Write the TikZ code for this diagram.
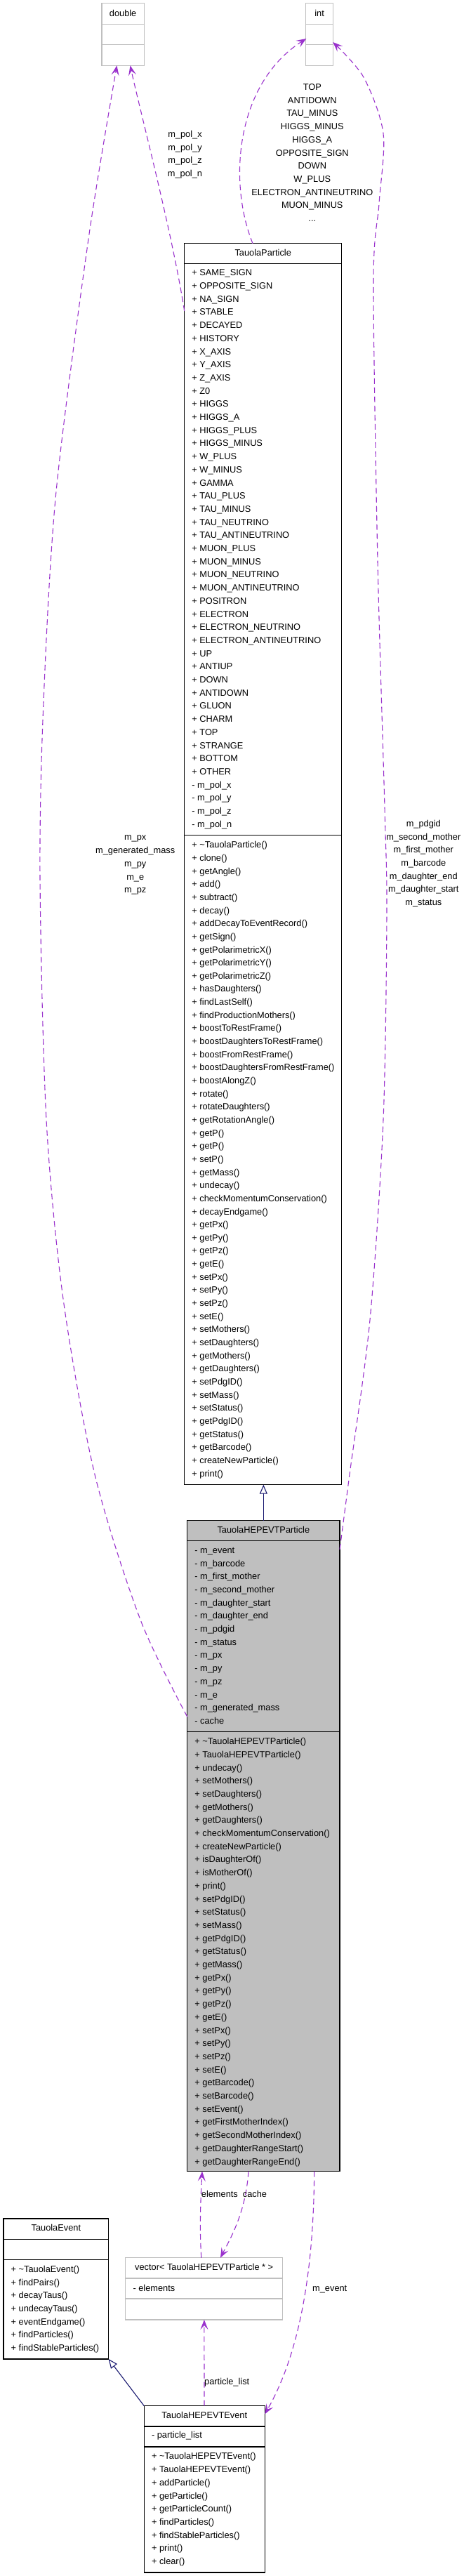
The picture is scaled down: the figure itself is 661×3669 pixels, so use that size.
\documentclass[tikz,border=0pt]{standalone}
\usepackage{fontspec}
\setmainfont{Liberation Sans}
\usetikzlibrary{calc,arrows.meta}
\definecolor{edgepurple}{HTML}{9A32CD}
\definecolor{inhblue}{HTML}{191970}
\definecolor{boxgray}{HTML}{BFBFBF}
\begin{document}
\begin{tikzpicture}[x=1pt,y=-1pt,
  every node/.style={font=\fontsize{12.8pt}{15pt}\selectfont},
  box/.style={draw=black, line width=1.2pt, fill=white, inner sep=0pt, outer sep=0pt, anchor=north west, rectangle},
  lbox/.style={box, draw=boxgray},
  gbox/.style={box, fill=boxgray},
  sepline/.style={draw=black, line width=1.2pt},
  lsepline/.style={draw=boxgray, line width=1.2pt},
  row/.style={anchor=west, inner sep=0pt, text height=9.2pt, text depth=0pt},
  ttl/.style={anchor=center, inner sep=0pt, text height=9.2pt, text depth=0pt},
  elbl/.style={anchor=center, inner sep=0pt, text height=9.2pt, text depth=0pt},
  elbll/.style={anchor=west, inner sep=0pt, text height=9.2pt, text depth=0pt},
  dep/.style={draw=edgepurple, line width=1.1pt, dash pattern=on 8pt off 5pt,
     -{Stealth[length=14pt,width=11pt,inset=6pt]}},
  inh/.style={draw=inhblue, line width=1.1pt, -{Triangle[open,length=13pt,width=11pt]}}
]
\fill[white] (0,0) rectangle (661,3669);
\useasboundingbox (0,0) rectangle (661,3669);

% ---------- double ----------
\node[lbox, minimum width=60.3pt, minimum height=88.6pt] (dbl) at (145,4.7) {};
\draw[lsepline] ($(dbl.north west)+(0,29.6)$) -- ($(dbl.north east)+(0,29.6)$);
\draw[lsepline] ($(dbl.north west)+(0,58.6)$) -- ($(dbl.north east)+(0,58.6)$);
\node[ttl] (dbl-t) at ($(dbl.north)+(0,14)$) {double};

% ---------- int ----------
\node[lbox, minimum width=39.2pt, minimum height=88.6pt] (int) at (435.5,4.7) {};
\draw[lsepline] ($(int.north west)+(0,29.6)$) -- ($(int.north east)+(0,29.6)$);
\draw[lsepline] ($(int.north west)+(0,58.6)$) -- ($(int.north east)+(0,58.6)$);
\node[ttl] (int-t) at ($(int.north)+(0,14)$) {int};

% ---------- TauolaParticle ----------
\node[box, minimum width=224pt, minimum height=1768pt] (tp) at (262.7,346.7) {};
\draw[sepline] ($(tp.north west)+(0,29)$) -- ($(tp.north east)+(0,29)$);
\draw[sepline] ($(tp.north west)+(0,843.1)$) -- ($(tp.north east)+(0,843.1)$);
\node[ttl] (tp-t) at ($(tp.north)+(0,13.5)$) {TauolaParticle};
\foreach \txt [count=\i from 0] in {+ SAME\_SIGN, + OPPOSITE\_SIGN, + NA\_SIGN, + STABLE, + DECAYED, + HISTORY, + X\_AXIS, + Y\_AXIS, + Z\_AXIS, + Z0, + HIGGS, + HIGGS\_A, + HIGGS\_PLUS, + HIGGS\_MINUS, + W\_PLUS, + W\_MINUS, + GAMMA, + TAU\_PLUS, + TAU\_MINUS, + TAU\_NEUTRINO, + TAU\_ANTINEUTRINO, + MUON\_PLUS, + MUON\_MINUS, + MUON\_NEUTRINO, + MUON\_ANTINEUTRINO, + POSITRON, + ELECTRON, + ELECTRON\_NEUTRINO, + ELECTRON\_ANTINEUTRINO, + UP, + ANTIUP, + DOWN, + ANTIDOWN, + GLUON, + CHARM, + TOP, + STRANGE, + BOTTOM, + OTHER, - m\_pol\_x, - m\_pol\_y, - m\_pol\_z, - m\_pol\_n}
  \node[row] (tpa\i) at ($(tp.north west)+(10.5,{41.5+18.7*\i})$) {\txt};
\foreach \txt [count=\i from 0] in {+ \textasciitilde TauolaParticle(), + clone(), + getAngle(), + add(), + subtract(), + decay(), + addDecayToEventRecord(), + getSign(), + getPolarimetricX(), + getPolarimetricY(), + getPolarimetricZ(), + hasDaughters(), + findLastSelf(), + findProductionMothers(), + boostToRestFrame(), + boostDaughtersToRestFrame(), + boostFromRestFrame(), + boostDaughtersFromRestFrame(), + boostAlongZ(), + rotate(), + rotateDaughters(), + getRotationAngle(), + getP(), + getP(), + setP(), + getMass(), + undecay(), + checkMomentumConservation(), + decayEndgame(), + getPx(), + getPy(), + getPz(), + getE(), + setPx(), + setPy(), + setPz(), + setE(), + setMothers(), + setDaughters(), + getMothers(), + getDaughters(), + setPdgID(), + setMass(), + setStatus(), + getPdgID(), + getStatus(), + getBarcode(), + createNewParticle(), + print()}
  \node[row] (tpm\i) at ($(tp.north west)+(10.5,{856.5+18.65*\i})$) {\txt};

% ---------- TauolaHEPEVTParticle ----------
\node[gbox, minimum width=217.3pt, minimum height=927pt] (thp) at (266.7,2165.7) {};
\draw[sepline] ($(thp.north west)+(0,29)$) -- ($(thp.north east)+(0,29)$);
\draw[sepline] ($(thp.north west)+(0,301)$) -- ($(thp.north east)+(0,301)$);
\node[ttl] (thp-t) at ($(thp.north)+(0,13)$) {TauolaHEPEVTParticle};
\foreach \txt [count=\i from 0] in {- m\_event, - m\_barcode, - m\_first\_mother, - m\_second\_mother, - m\_daughter\_start, - m\_daughter\_end, - m\_pdgid, - m\_status, - m\_px, - m\_py, - m\_pz, - m\_e, - m\_generated\_mass, - cache}
  \node[row] (thpa\i) at ($(thp.north west)+(10.5,{42+18.7*\i})$) {\txt};
\foreach \txt [count=\i from 0] in {+ \textasciitilde TauolaHEPEVTParticle(), + TauolaHEPEVTParticle(), + undecay(), + setMothers(), + setDaughters(), + getMothers(), + getDaughters(), + checkMomentumConservation(), + createNewParticle(), + isDaughterOf(), + isMotherOf(), + print(), + setPdgID(), + setStatus(), + setMass(), + getPdgID(), + getStatus(), + getMass(), + getPx(), + getPy(), + getPz(), + getE(), + setPx(), + setPy(), + setPz(), + setE(), + getBarcode(), + setBarcode(), + setEvent(), + getFirstMotherIndex(), + getSecondMotherIndex(), + getDaughterRangeStart(), + getDaughterRangeEnd()}
  \node[row] (thpm\i) at ($(thp.north west)+(10.5,{314.3+18.7*\i})$) {\txt};

% ---------- TauolaEvent ----------
\node[box, minimum width=149.7pt, minimum height=200pt] (te) at (5,3160) {};
\draw[sepline] ($(te.north west)+(0,29.3)$) -- ($(te.north east)+(0,29.3)$);
\draw[sepline] ($(te.north west)+(0,58.3)$) -- ($(te.north east)+(0,58.3)$);
\node[ttl] (te-t) at ($(te.north)+(0,13)$) {TauolaEvent};
\foreach \txt [count=\i from 0] in {+ \textasciitilde TauolaEvent(), + findPairs(), + decayTaus(), + undecayTaus(), + eventEndgame(), + findParticles(), + findStableParticles()}
  \node[row] (tem\i) at ($(te.north west)+(10.5,{71.7+18.7*\i})$) {\txt};

% ---------- vector ----------
\node[lbox, minimum width=223.8pt, minimum height=88.3pt] (vec) at (178.8,3215.7) {};
\draw[lsepline] ($(vec.north west)+(0,29.3)$) -- ($(vec.north east)+(0,29.3)$);
\draw[lsepline] ($(vec.north west)+(0,58.3)$) -- ($(vec.north east)+(0,58.3)$);
\node[ttl] (vec-t) at ($(vec.north)+(0,13.5)$) {vector< TauolaHEPEVTParticle * >};
\node[row] (veca0) at ($(vec.north west)+(10.5,43.3)$) {- elements};

% ---------- TauolaHEPEVTEvent ----------
\node[box, minimum width=172pt, minimum height=237.3pt] (the) at (205.3,3426.7) {};
\draw[sepline] ($(the.north west)+(0,29.3)$) -- ($(the.north east)+(0,29.3)$);
\draw[sepline] ($(the.north west)+(0,58.3)$) -- ($(the.north east)+(0,58.3)$);
\node[ttl] (the-t) at ($(the.north)+(0,13)$) {TauolaHEPEVTEvent};
\node[row] (thea0) at ($(the.north west)+(10.5,41.6)$) {- particle\_list};
\foreach \txt [count=\i from 0] in {+ \textasciitilde TauolaHEPEVTEvent(), + TauolaHEPEVTEvent(), + addParticle(), + getParticle(), + getParticleCount(), + findParticles(), + findStableParticles(), + print(), + clear()}
  \node[row] (them\i) at ($(the.north west)+(10.5,{71.6+18.7*\i})$) {\txt};

% ---------- connectors ----------
% TauolaParticle -> double (m_pol_*)
\draw[dep] ($(tp.north west)+(0,96.3)$) .. controls (245,330) and (200,160) .. ($(dbl.south west)+(40.5,0)$);
\foreach \txt [count=\i from 0] in {m\_pol\_x, m\_pol\_y, m\_pol\_z, m\_pol\_n}
  \node[elbl] (lpol\i) at (263.5,{191+18.6*\i}) {\txt};

% TauolaHEPEVTParticle -> double (m_px ...)
\coordinate (e2s) at ($(thp.north west)+(0,279.3)$);
\coordinate (e2e) at ($(dbl.south west)+(21.5,0)$);
\draw[dep] plot[smooth] coordinates {(e2s) (200,2307) (135,2100) (90,1850) (66,1595) (57,1250) (62,1000) (80,700) (126.5,337) (e2e)};
\foreach \txt [count=\i from 0] in {m\_px, m\_generated\_mass, m\_py, m\_e, m\_pz}
  \node[elbl] (lpx\i) at (192.7,{1192.3+18.7*\i}) {\txt};

% TauolaParticle -> int (enum values)
\draw[dep] ($(tp.north west)+(97.3,0)$) .. controls (325,260) and (335,120) .. ($(int.west)+(0.8,6)$);
\foreach \txt [count=\i from 0] in {TOP, ANTIDOWN, TAU\_MINUS, HIGGS\_MINUS, HIGGS\_A, OPPOSITE\_SIGN, DOWN, W\_PLUS, ELECTRON\_ANTINEUTRINO, MUON\_MINUS}
  \node[elbl] (lenum\i) at (444.8,{124+18.7*\i}) {\txt};
\node[elbl] (lenumdots) at (444.8,311) {...};

% TauolaHEPEVTParticle -> int (m_pdgid ...)
\coordinate (e4s) at ($(thp.north east)+(0,41.3)$);
\coordinate (e4e) at ($(int.east)+(-0.5,11)$);
\draw[dep] plot[smooth] coordinates {(e4s) (498,2100) (527,1880) (546,1595) (551,1300) (548,1150) (538,800) (532,400) (540,290) (546,190) (518,110) (e4e)};
\foreach \txt [count=\i from 0] in {m\_pdgid, m\_second\_mother, m\_first\_mother, m\_barcode, m\_daughter\_end, m\_daughter\_start, m\_status}
  \node[elbl] (lpdg\i) at (603.3,{1172.7+18.7*\i}) {\txt};

% inheritance TauolaHEPEVTParticle -> TauolaParticle
\draw[inh] (thp.north) -- (thp.north |- tp.south);

% vector -> TauolaHEPEVTParticle (elements)
\draw[dep] ($(vec.north west)+(108,0)$) .. controls (284,3170) and (286,3130) .. ($(thp.south west)+(21.3,0)$);
\node[elbll] (lelem) at (286.7,3125) {elements};
% TauolaHEPEVTParticle -> vector (cache)
\draw[dep] ($(thp.south west)+(87.3,0)$) .. controls (350,3150) and (330,3185) .. ($(vec.north west)+(135.2,0)$);
\node[elbll] (lcache) at (345.7,3125) {cache};

% TauolaHEPEVTParticle -> TauolaHEPEVTEvent (m_event)
\draw[dep] ($(thp.south west)+(181,0)$) .. controls (447,3230) and (428,3350) .. ($(the.north east)+(0,11.6)$);
\node[elbll] (levent) at (445,3259) {m\_event};

% TauolaHEPEVTEvent -> vector (particle_list)
\draw[dep] ($(the.north west)+(85.7,0)$) -- ($(vec.south west)+(112.1,0)$);
\node[elbll] (lplist) at (291,3391.7) {particle\_list};

% inheritance TauolaHEPEVTEvent -> TauolaEvent
\draw[inh] (the.north west) -- (te.south east);
\end{tikzpicture}
\end{document}
